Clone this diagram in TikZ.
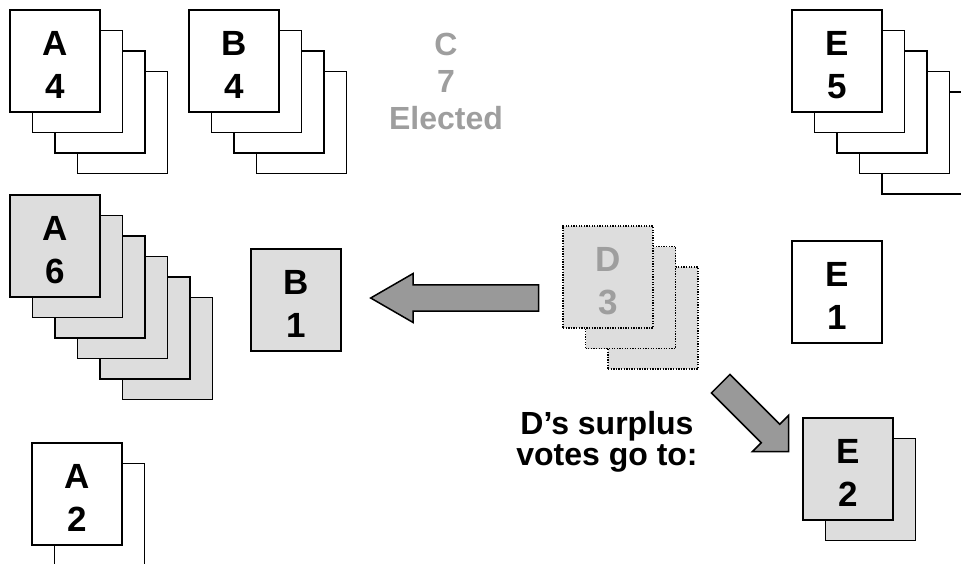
\documentclass[tikz,border=0pt]{standalone}
\usepackage{fontspec}
\setmainfont{Liberation Sans}
\usepackage{xcolor}
\definecolor{cardgray}{RGB}{221,221,221}
\definecolor{arrowgray}{RGB}{153,153,153}
\definecolor{fadegray}{RGB}{158,158,158}
\usepackage{tikz}
\usetikzlibrary{calc}
\usetikzlibrary{shapes.arrows}
\newcommand{\widthsheet}{90pt}
\newcommand{\heightsheet}{102pt}
\newcommand{\offsetx}{22.5}
\newcommand{\offsety}{20.5}
\tikzset{
    sheet/.style={draw, rectangle, line width=1.5pt, fill=white, minimum width=\widthsheet, minimum height=\heightsheet, inner sep=0pt, align=center, font=\fontsize{35}{43}\selectfont\bfseries},
    shaded/.style={sheet, fill=cardgray},
    faded/.style={shaded, line width=1.2pt, dash pattern=on 1.3pt off 1.3pt, text=fadegray},
    tally/.style={align=center, inner sep=0pt, font=\fontsize{32}{37}\selectfont\bfseries},
    bigarrow/.style={single arrow, draw, fill=arrowgray, line width=1.5pt, inner xsep=0pt, inner ysep=12.3pt}
}
% pile of ballots: name, centre of front sheet, sheets behind it, style, text
\newcommand{\ballotpile}[5]{
    \ifnum#3>0
        \foreach \k in {#3,...,1}
            \node[#4] (#1-\k) at ($(#2)+(\k*\offsetx,\k*\offsety)$) {};
    \fi
    \node[#4] (#1) at (#2) {\rule{0pt}{32pt}#5};
}

\begin{document}
\begin{tikzpicture}[x=1pt, y=-1pt]
    \useasboundingbox (0,0) rectangle (961,563);
    \clip (0,0) rectangle (961,563);

    % piles before the transfer
    \ballotpile{a4}{55,61}{3}{sheet}{A\\4}
    \ballotpile{b4}{234,61}{3}{sheet}{B\\4}
    \node[tally, text=fadegray] (c7) at (446,81) {C\\7\\Elected};
    \ballotpile{e5}{837,61}{4}{sheet}{E\\5}

    % D's pile being shared out
    \ballotpile{a6}{55,246}{5}{shaded}{A\\6}
    \ballotpile{b1}{296,300}{0}{shaded}{B\\1}
    \ballotpile{d3}{608,277}{2}{faded}{D\\3}
    \ballotpile{e1}{837,292}{0}{sheet}{E\\1}
    \ballotpile{e2}{848,469}{1}{shaded}{E\\2}
    \ballotpile{a2}{77,494}{1}{sheet}{A\\2}

    \node[tally, font=\fontsize{32}{31}\selectfont\bfseries] (surplus) at (607,442) {D’s surplus\\votes go to:};

    \node[bigarrow, shape border rotate=180, minimum height=168pt, minimum width=48pt,
          single arrow head extend=11.5pt, single arrow tip angle=60] (to-b1) at (466,298) {};
    \node[bigarrow, rotate=-45, minimum height=96pt, minimum width=49pt,
          single arrow head extend=12.5pt, single arrow tip angle=90] (to-e2) at (750,413) {};
\end{tikzpicture}
\end{document}
